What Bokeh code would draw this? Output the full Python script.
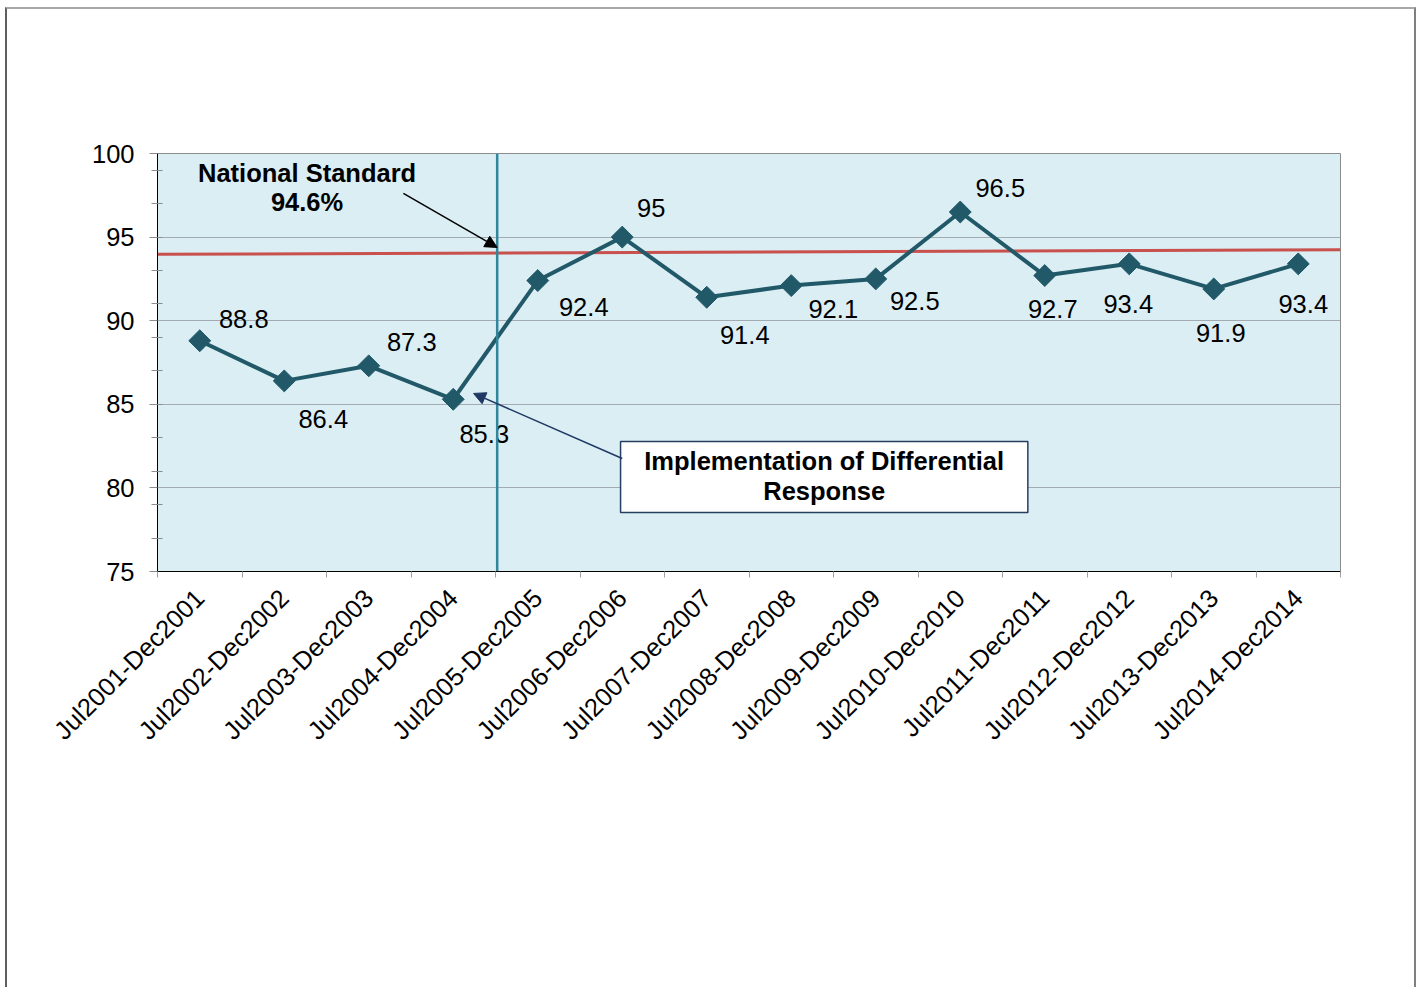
import math
from bokeh.plotting import figure
from bokeh.models import Range1d, FixedTicker, ColumnDataSource, Arrow, NormalHead
from bokeh.layouts import column
from bokeh.embed import file_html
from bokeh.resources import INLINE
from bokeh.core.properties import value

# ---- data ----
periods = ["Jul2001-Dec2001", "Jul2002-Dec2002", "Jul2003-Dec2003", "Jul2004-Dec2004",
           "Jul2005-Dec2005", "Jul2006-Dec2006", "Jul2007-Dec2007", "Jul2008-Dec2008",
           "Jul2009-Dec2009", "Jul2010-Dec2010", "Jul2011-Dec2011", "Jul2012-Dec2012",
           "Jul2013-Dec2013", "Jul2014-Dec2014"]
rates = [88.8, 86.4, 87.3, 85.3, 92.4, 95.0, 91.4, 92.1, 92.5, 96.5, 92.7, 93.4, 91.9, 93.4]
rate_labels = ["88.8", "86.4", "87.3", "85.3", "92.4", "95", "91.4", "92.1", "92.5",
               "96.5", "92.7", "93.4", "91.9", "93.4"]
y_ticks = [75, 80, 85, 90, 95, 100]
y_minor_ticks = [77, 79, 81, 83, 85, 87, 89, 91, 93, 95, 97, 99]
standard_line = [93.97, 94.25]          # national standard line as drawn (start, end)
implementation_after = 4                # differential response introduced after 4th period

# ---- label placement (pixels) ----
label_dx = [44, 39, 43, 31, 46, 29, 38, 42, 39, 40, 8, -1, 7, 5]
label_dy = [-22, 38, -24, 35, 26, -29, 38, 23, 22, -24, 33, 40, 44, 40]

FONT = "Liberation Sans"
FS = "25.5px"
LINE_COLOR = "#215968"

n = len(periods)
xs = [i + 0.5 for i in range(n)]

p = figure(width=1407, height=978, output_backend="svg", toolbar_location=None,
           x_range=Range1d(0, n), y_range=Range1d(75, 100),
           min_border_left=150, min_border_top=144, min_border_right=74,
           min_border_bottom=416)
p.background_fill_color = "#DBEEF4"
p.border_fill_color = "white"
p.outline_line_color = "#8C8C8C"
p.outline_line_width = 1

# y axis
p.yaxis.ticker = FixedTicker(ticks=y_ticks, minor_ticks=y_minor_ticks)
p.yaxis.axis_line_color = "black"
p.yaxis.axis_line_width = 1
p.yaxis.major_tick_out = 8
p.yaxis.major_tick_in = 0
p.yaxis.major_tick_line_color = "#8C8C8C"
p.yaxis.minor_tick_out = 6
p.yaxis.minor_tick_in = 5
p.yaxis.minor_tick_line_color = "#8C8C8C"
p.yaxis.major_label_standoff = 15
p.yaxis.major_label_text_font = FONT
p.yaxis.major_label_text_font_size = FS
p.yaxis.major_label_text_color = "black"

# x axis (ticks between categories, labels at centres)
p.xaxis.ticker = FixedTicker(ticks=xs, minor_ticks=list(range(n + 1)))
p.xaxis.major_label_overrides = {x: lab for x, lab in zip(xs, periods)}
p.xaxis.axis_line_color = "black"
p.xaxis.axis_line_width = 1
p.xaxis.major_tick_line_color = None
p.xaxis.major_tick_out = 6
p.xaxis.major_tick_in = 0
p.xaxis.minor_tick_out = 6
p.xaxis.minor_tick_in = 0
p.xaxis.minor_tick_line_color = "#A0A0A0"
p.xaxis.major_label_orientation = math.pi / 4
p.xaxis.major_label_standoff = 16
p.xaxis.major_label_text_font = FONT
p.xaxis.major_label_text_font_size = FS
p.xaxis.major_label_text_color = "black"

p.xgrid.visible = False
p.ygrid.ticker = FixedTicker(ticks=y_ticks)
p.ygrid.grid_line_color = "#A2ABB2"
p.ygrid.grid_line_width = 1

# national standard line
p.segment(x0=[0], y0=[standard_line[0]], x1=[n], y1=[standard_line[1]],
          line_color="#C8504D", line_width=3)

# series
src = ColumnDataSource(dict(x=xs, y=rates, lab=rate_labels, dx=label_dx, dy=label_dy))
p.line("x", "y", source=src, line_color=LINE_COLOR, line_width=4)
p.scatter("x", "y", source=src, marker="square", size=15.5, angle=math.pi / 4,
          fill_color=LINE_COLOR, line_color=LINE_COLOR)
p.text("x", "y", text="lab", source=src, x_offset="dx", y_offset="dy",
       text_align="center", text_baseline="middle",
       text_font=value(FONT), text_font_size=FS, text_color="black")

# implementation marker line
p.segment(x0=[implementation_after + 0.02], y0=[100], x1=[implementation_after + 0.02], y1=[74.8],
          line_color="#31869B", line_width=2.5)

# National Standard annotation
p.text([1.77], [98.85], text=["National Standard"], text_align="center", text_baseline="middle",
       text_font=value(FONT), text_font_size=FS, text_font_style="bold", text_color="black")
p.text([1.77], [97.12], text=["94.6%"], text_align="center", text_baseline="middle",
       text_font=value(FONT), text_font_size=FS, text_font_style="bold", text_color="black")
p.add_layout(Arrow(end=NormalHead(size=12, fill_color="black", line_color="black"),
                   x_start=2.91, y_start=97.61, x_end=4.02, y_end=94.38,
                   line_color="black", line_width=1.5))

# Implementation annotation
p.add_layout(Arrow(end=NormalHead(size=12, fill_color="#1F3864", line_color="#1F3864"),
                   x_start=5.50, y_start=81.76, x_end=3.74, y_end=85.65,
                   line_color="#1F3864", line_width=1.5))
p.quad(left=[5.48], right=[10.30], top=[82.78], bottom=[78.53],
       fill_color="white", line_color="#243F60", line_width=1.5)
p.text([7.89], [81.6], text=["Implementation of Differential"], text_align="center",
       text_baseline="middle", text_font=value(FONT), text_font_size=FS,
       text_font_style="bold", text_color="black")
p.text([7.89], [79.8], text=["Response"], text_align="center",
       text_baseline="middle", text_font=value(FONT), text_font_size=FS,
       text_font_style="bold", text_color="black")

lay = column(p, styles={"margin-left": "5px", "margin-top": "7px",
                        "border-left": "2px solid #5F5F5F",
                        "border-right": "2px solid #7F7F7F",
                        "border-top": "2px solid #A8A8A8"})

open("out.html", "w").write(file_html(lay, INLINE))
